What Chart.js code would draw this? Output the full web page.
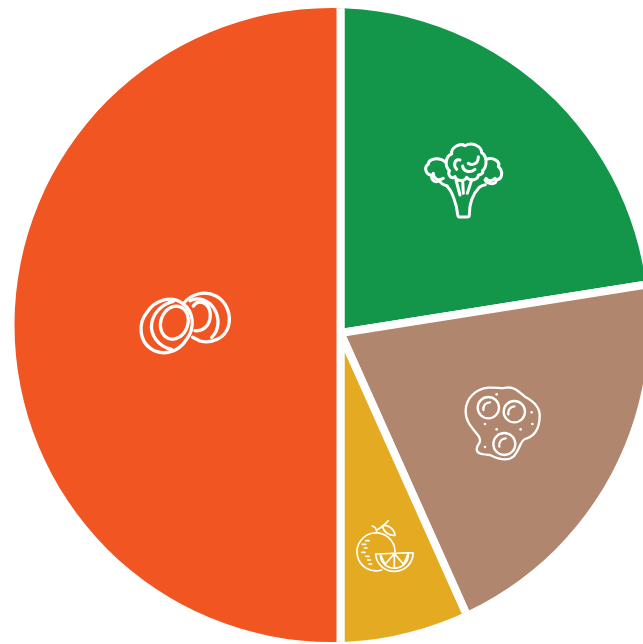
<!DOCTYPE html>
<html>
<head>
<meta charset="utf-8">
<title>Food groups</title>
<style>
    html, body { margin: 0; padding: 0; background: #fff; overflow: hidden; }
    canvas { display: block; }
</style>
<script src="https://cdn.jsdelivr.net/npm/chart.js@4"></script>
</head>
<body>
<canvas id="myChart" width="643" height="644"></canvas>
<script>
const categories = ['Vegetables', 'Eggs', 'Fruit', 'Onions'];
const shares = [22.5, 20.8, 6.7, 50];
const sliceColors = ['#13954A', '#B0876E', '#E4AA21', '#F15522'];

/*---------- icons, on a grid three times finer than the page ----------*/
const icons = [
    {
        x: 410, y: 130, width: 9,
        paths: [
            'M112 170 C125 182 140 220 143 254 Q144 261 150 261 L171 261 Q178 261 178 254 C178 225 186 195 208 172 Q214 166 226 164',
            'M112 168 C100 165 92 160 88 152 C78 160 62 152 65 135 C48 135 40 112 55 103 C55 88 85 78 108 97',
            'M118 122 C102 105 108 78 125 72 C122 52 150 38 165 47 C185 35 215 48 215 68 C232 78 232 110 218 122',
            'M118 122 C112 135 125 150 135 140 C140 155 165 155 170 142 C180 155 205 150 205 135 C215 135 220 128 218 122',
            'M228 88 C250 80 272 95 265 110 C282 125 275 150 260 148 C258 165 235 165 225 150',
            'M138 150 L150 195 M158 152 L160 190 M185 150 L172 190',
            'M150 90 C135 85 128 105 140 118 M205 80 C205 100 190 108 175 100 M195 118 C180 130 160 125 158 108',
            'M70 130 C70 145 85 155 100 145 M228 145 C238 158 250 150 255 145'
        ]
    },
    {
        x: 455, y: 375, width: 7,
        paths: [
            'M32 105 C34 70 60 42 100 38 C125 36 140 42 155 38 C180 34 195 55 210 65 C235 78 256 95 254 125 C253 165 235 185 210 192 C195 198 195 225 175 245 C155 262 125 250 105 240 C85 238 65 238 65 222 C66 205 82 205 72 185 C60 165 30 145 32 105',
            'M132 98 A32 32 0 1 1 68 98 A32 32 0 1 1 132 98',
            'M210 110 A32 32 0 1 1 146 110 A32 32 0 1 1 210 110',
            'M181 207 A33 33 0 1 1 115 207 A33 33 0 1 1 181 207',
            'M85 105 C84 92 92 82 105 82 M160 118 C158 105 166 96 178 94 M133 215 C131 200 140 190 152 190'
        ],
        dots: [[125, 58], [230, 112], [232, 147], [90, 147], [125, 163], [197, 163], [90, 216]]
    },
    {
        x: 345, y: 510, width: 5,
        paths: [
            'M150 125 A57 57 0 1 0 110 180',
            'M92 132 L204 128 M92 132 A56 54 0 0 0 204 128',
            'M106 136 A42 40 0 0 0 190 133',
            'M148 131 L120 163 M148 131 L148 174 M148 131 L176 163 M108 137 L120 163 M188 134 L176 163',
            'M95 64 C92 50 82 48 82 48 M95 60 C105 55 118 45 130 32',
            'M112 48 C125 42 148 55 150 76 C132 78 115 65 112 48',
            'M62 92 L72 92 M52 103 L62 103 M58 114 L66 114 M50 127 L60 127 M62 139 L72 139 M68 150 L76 150 M72 162 L80 162'
        ]
    },
    {
        x: 130, y: 280, width: 10,
        paths: [
            'M51 97 A72 78 35 1 1 169 179 A72 78 35 1 1 51 97',
            'M125 208 C85 200 60 165 65 130 C70 100 95 72 130 64',
            'M95 114 A40 50 20 1 1 171 142 A40 50 20 1 1 95 114',
            'M160 72 C180 42 225 30 258 48 C290 65 305 105 295 140 C285 175 245 192 210 183 L188 172',
            'M180 62 C205 50 235 60 252 85 C270 115 268 150 245 172',
            'M190 78 C205 55 235 68 240 95 C245 125 228 155 195 152'
        ]
    }
];

// the wedges meet a little off the middle of the disc, so they are drawn
// oversized and trimmed to the disc here
const discClip = {
    id: 'discClip',
    beforeDatasetsDraw(chart) {
        const ctx = chart.ctx;
        ctx.save();
        ctx.beginPath();
        ctx.arc(331.5, 325, 317, 0, Math.PI * 2);
        ctx.clip();
    },
    afterDatasetsDraw(chart) {
        chart.ctx.restore();
    }
};

const iconLayer = {
    id: 'iconLayer',
    afterDraw(chart) {
        const ctx = chart.ctx;
        icons.forEach((icon) => {
            ctx.save();
            ctx.translate(icon.x, icon.y);
            ctx.scale(1 / 3, 1 / 3);
            ctx.strokeStyle = '#fff';
            ctx.fillStyle = '#fff';
            ctx.lineWidth = icon.width;
            ctx.lineCap = 'round';
            ctx.lineJoin = 'round';
            icon.paths.forEach((d) => ctx.stroke(new Path2D(d)));
            (icon.dots || []).forEach((dot) => {
                ctx.beginPath();
                ctx.arc(dot[0], dot[1], 4, 0, Math.PI * 2);
                ctx.fill();
            });
            ctx.restore();
        });
    }
};

const ctx = document.getElementById('myChart');
const myChart = new Chart(ctx, {
    type: 'pie',
    data: {
        labels: categories,
        datasets: [{
            data: shares,
            backgroundColor: sliceColors,
            borderColor: '#fff',
            borderWidth: 8,
            clip: false
        }]
    },
    options: {
        responsive: false,
        animation: false,
        radius: 340,
        layout: { padding: { left: 38, top: 22 } },
        plugins: {
            legend: { display: false },
            tooltip: { enabled: false }
        }
    },
    plugins: [discClip, iconLayer]
});
</script>
</body>
</html>
